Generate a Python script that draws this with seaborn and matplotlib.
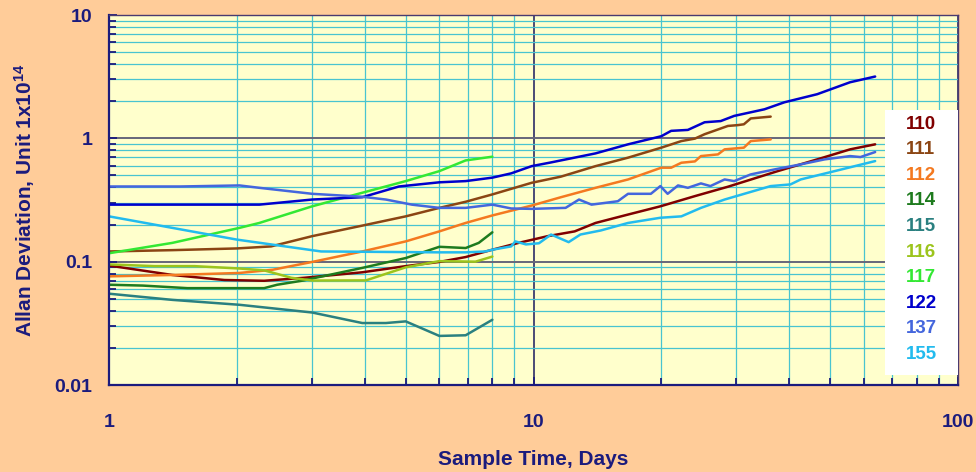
import matplotlib
matplotlib.use("Agg")
import matplotlib.pyplot as plt
import numpy as np
import pandas as pd
import seaborn as sns
from matplotlib.ticker import LogLocator, NullFormatter
from matplotlib.patches import Rectangle

# ---------------- data ----------------
labels = ["110", "111", "112", "114", "115", "116", "117", "122", "137", "155"]
colors = ["#800000", "#8B4513", "#F47920", "#1E7B1E", "#2A8080",
          "#9CC41C", "#33E833", "#0000CC", "#4466DD", "#22BBEE"]

s110_x = [1, 1.41, 1.87, 2.32, 2.88, 3.95, 5, 6, 6.92, 8, 9.22, 10.8, 12.5, 14, 16.7, 19.9, 24, 28.7, 37.6, 46.6, 55.7, 63.8]
s110_y = [0.093, 0.078, 0.071, 0.070, 0.074, 0.082, 0.092, 0.0995, 0.109, 0.125, 0.142, 0.161, 0.176, 0.206, 0.241, 0.281, 0.34, 0.405, 0.542, 0.675, 0.814, 0.894]

s111_x = [1, 1.41, 2.0, 2.41, 3.01, 3.95, 5, 6, 6.92, 8, 9.9, 11.6, 14, 16.7, 20, 22.3, 24, 25.3, 27.2, 28.7, 30.3, 31.3, 32.5, 36.2]
s111_y = [0.121, 0.124, 0.128, 0.133, 0.161, 0.196, 0.233, 0.273, 0.306, 0.351, 0.436, 0.489, 0.595, 0.697, 0.84, 0.95, 0.995, 1.08, 1.18, 1.26, 1.28, 1.3, 1.45, 1.5]

s112_x = [1, 1.41, 2.03, 2.43, 3.01, 3.95, 5, 6, 6.92, 8, 9.9, 11.6, 14, 16.7, 20, 21.1, 22.3, 24, 24.8, 27.2, 28.2, 31.3, 32.5, 36.2]
s112_y = [0.076, 0.078, 0.081, 0.086, 0.0995, 0.121, 0.146, 0.176, 0.206, 0.237, 0.285, 0.333, 0.397, 0.464, 0.578, 0.578, 0.634, 0.65, 0.718, 0.741, 0.814, 0.84, 0.95, 0.98]

s114_x = [1, 1.2, 1.53, 2.32, 2.49, 2.88, 3.01, 3.95, 5, 6, 6.92, 7.43, 8]
s114_y = [0.065, 0.064, 0.061, 0.061, 0.065, 0.0705, 0.073, 0.089, 0.107, 0.132, 0.129, 0.142, 0.173]

s115_x = [1, 1.41, 2.03, 3.01, 3.95, 4.49, 5, 6, 6.92, 8]
s115_y = [0.055, 0.049, 0.0447, 0.0387, 0.0318, 0.0318, 0.0328, 0.025, 0.0253, 0.0338]

s116_x = [1, 1.28, 1.59, 2.03, 2.32, 2.69, 3.01, 4.03, 5, 6, 7.3, 8]
s116_y = [0.095, 0.092, 0.092, 0.088, 0.085, 0.074, 0.0703, 0.0705, 0.09, 0.101, 0.1, 0.11]

s117_x = [1, 1.41, 2.03, 2.26, 3.01, 3.95, 5, 6, 6.92, 8]
s117_y = [0.117, 0.142, 0.188, 0.206, 0.281, 0.362, 0.45, 0.542, 0.662, 0.71]

s122_x = [1, 2.26, 3.01, 3.95, 4.82, 6, 6.92, 8, 8.86, 9.9, 11, 14, 16.7, 20, 21.1, 23.1, 25.3, 27.6, 29.7, 35, 39, 46.6, 55.7, 60, 63.8]
s122_y = [0.29, 0.29, 0.319, 0.333, 0.407, 0.44, 0.45, 0.48, 0.52, 0.595, 0.638, 0.755, 0.894, 1.04, 1.15, 1.17, 1.35, 1.38, 1.52, 1.72, 1.96, 2.28, 2.85, 3.02, 3.17]

s137_x = [1, 1.47, 2.03, 2.26, 3.01, 3.95, 4.49, 5.17, 6, 6.92, 8, 8.86, 9.9, 11.9, 12.8, 13.7, 15.8, 16.7, 18.9, 19.9, 20.7, 21.9, 23.1, 24.8, 26.1, 28.2, 29.7, 32.5, 37, 42.6, 48.5, 55.7, 58.9, 63.8]
s137_y = [0.407, 0.407, 0.415, 0.397, 0.355, 0.336, 0.319, 0.29, 0.273, 0.273, 0.29, 0.27, 0.268, 0.273, 0.319, 0.29, 0.309, 0.355, 0.355, 0.41, 0.355, 0.415, 0.397, 0.431, 0.41, 0.464, 0.45, 0.51, 0.56, 0.615, 0.675, 0.718, 0.705, 0.774]

s155_x = [1, 2.0, 3.16, 6, 6.92, 7.7, 8, 8.86, 9.06, 9.6, 10.3, 11, 12.1, 12.9, 14.4, 16.7, 19.9, 22.3, 24.8, 28.2, 36.2, 40.3, 42.6, 51.2, 63.8]
s155_y = [0.233, 0.151, 0.121, 0.119, 0.119, 0.121, 0.125, 0.133, 0.146, 0.138, 0.141, 0.166, 0.144, 0.166, 0.179, 0.206, 0.227, 0.233, 0.273, 0.319, 0.41, 0.423, 0.464, 0.542, 0.654]

x_ticks = [1, 10, 100]
x_tick_labels = ["1", "10", "100"]
y_ticks = [0.01, 0.1, 1, 10]
y_tick_labels = ["0.01", "0.1", "1", "10"]

series = {
    "110": (s110_x, s110_y), "111": (s111_x, s111_y), "112": (s112_x, s112_y),
    "114": (s114_x, s114_y), "115": (s115_x, s115_y), "116": (s116_x, s116_y),
    "117": (s117_x, s117_y), "122": (s122_x, s122_y), "137": (s137_x, s137_y),
    "155": (s155_x, s155_y),
}
df = pd.concat(
    [pd.DataFrame({"x": xs, "y": ys, "series": name}) for name, (xs, ys) in series.items()],
    ignore_index=True,
)

# ---------------- style ----------------
sns.set_theme(style="white")
plt.rcParams["font.family"] = ["Liberation Sans", "DejaVu Sans"]
plt.rcParams["font.weight"] = "bold"
plt.rcParams["mathtext.fontset"] = "custom"
plt.rcParams["mathtext.rm"] = "Liberation Sans:bold"
plt.rcParams["mathtext.bf"] = "Liberation Sans:bold"
plt.rcParams["mathtext.it"] = "Liberation Sans:bold"

navy = "#1b1b7d"

fig = plt.figure(figsize=(9.76, 4.72), dpi=100, facecolor="#FFCC99")
ax = fig.add_axes([109 / 976, 87 / 472, 849 / 976, 370 / 472])
ax.set_facecolor("#FFFFCC")

sns.lineplot(data=df, x="x", y="y", hue="series", hue_order=labels,
             palette=dict(zip(labels, colors)), estimator=None, sort=False,
             linewidth=1.8, ax=ax, legend=False)

ax.set_xscale("log")
ax.set_yscale("log")
ax.set_xlim(1, 100)
ax.set_ylim(0.01, 10)

ax.set_xticks(x_ticks, labels=x_tick_labels)
ax.set_yticks(y_ticks, labels=y_tick_labels)
ax.xaxis.set_minor_locator(LogLocator(base=10, subs=range(2, 10)))
ax.yaxis.set_minor_locator(LogLocator(base=10, subs=range(2, 10)))
ax.xaxis.set_minor_formatter(NullFormatter())
ax.yaxis.set_minor_formatter(NullFormatter())

ax.set_axisbelow(True)
ax.grid(which="minor", axis="both", color="#48C4D0", linewidth=0.9)
ax.xaxis.grid(which="major", color="#2c2c66", linewidth=1.2)
ax.yaxis.grid(which="major", color="#66667a", linewidth=1.4)

ax.tick_params(which="both", direction="in", color=navy, width=1.3,
               left=True, bottom=True, top=False, right=False)
ax.tick_params(which="major", length=6)
ax.tick_params(which="minor", length=5)
ax.tick_params(axis="y", which="major", pad=12, labelsize=14, labelcolor=navy)
ax.tick_params(axis="x", which="major", pad=21, labelsize=14, labelcolor=navy)

for side in ["left", "bottom"]:
    ax.spines[side].set_color(navy)
    ax.spines[side].set_linewidth(1.6)
for side in ["top", "right"]:
    ax.spines[side].set_color("#4a3a70")
    ax.spines[side].set_linewidth(1.0)

ax.set_xlabel("Sample Time, Days", fontsize=15, color=navy, fontweight="bold")
ax.set_ylabel("Allan Deviation, Unit 1x10$^{14}$", fontsize=15, color=navy, fontweight="bold")
ax.xaxis.set_label_coords(0.5, -0.175)
ax.yaxis.set_label_coords(-0.085, 0.5)

# legend box
ax.add_patch(Rectangle((0.914, 0.027), 0.086, 0.716, transform=ax.transAxes,
                       facecolor="white", edgecolor="none", zorder=4))
leg = ax.legend(handles=ax.lines[:len(labels)], labels=labels, loc="center",
                bbox_to_anchor=(0.957, 0.394), frameon=False, handlelength=0,
                handletextpad=0, labelcolor="linecolor",
                prop=dict(weight="bold", size=13.5), labelspacing=0.45)
leg.set_zorder(5)

fig.savefig("out.png", dpi=100, facecolor=fig.get_facecolor())
